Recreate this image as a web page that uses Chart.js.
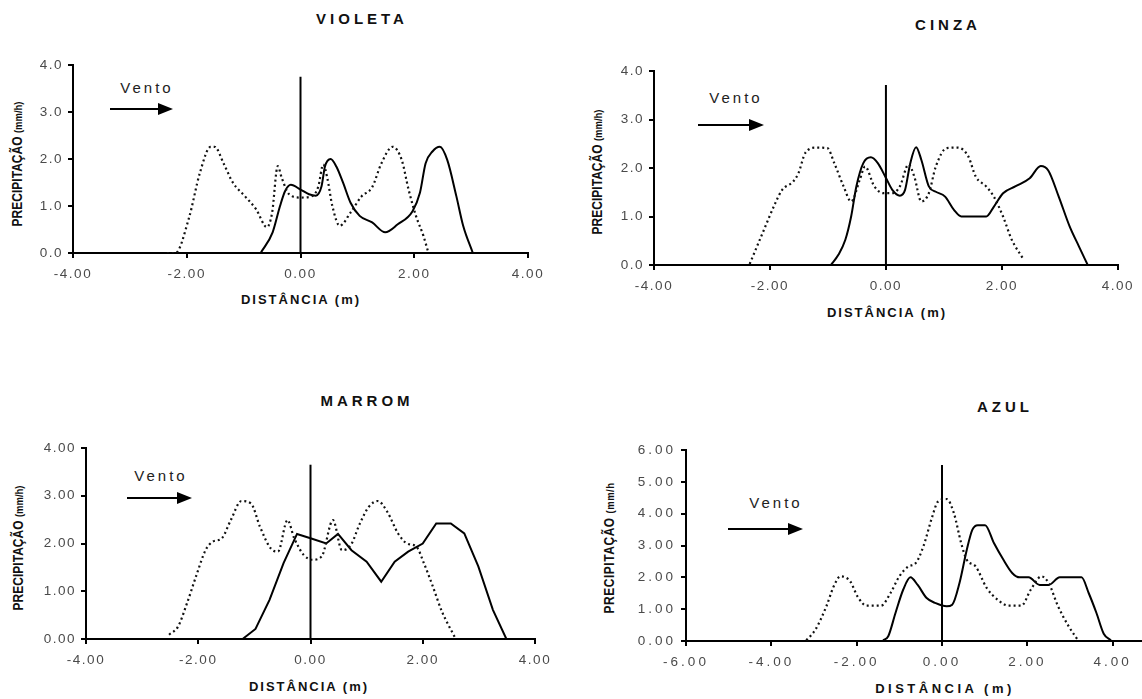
<!DOCTYPE html>
<html>
<head>
<meta charset="utf-8">
<script src="https://cdn.jsdelivr.net/npm/chart.js@4"></script>
<style>
  html, body { margin:0; padding:0; background:#fff; }
  body { width:1142px; height:699px; overflow:hidden; position:relative; font-family:'Liberation Sans', Arial, sans-serif; }
  canvas { position:absolute; }
  .txt { position:absolute; transform:translate(-50%,-50%); white-space:nowrap; color:#111; }
  .ttl { font-weight:bold; font-size:15px; letter-spacing:4px; }
  .xt  { font-weight:bold; font-size:13px; letter-spacing:2px; }
  .yt  { font-weight:bold; font-size:14px; transform:translate(-50%,-50%) rotate(-90deg) scaleX(0.86); }
  .yt small { font-size:11px; font-weight:bold; }
  .vento { font-size:15px; letter-spacing:3px; color:#222; }
</style>
</head>
<body>

<div class="txt ttl" style="left:362px;top:18px">VIOLETA</div>
<div class="txt ttl" style="left:948px;top:24px">CINZA</div>
<div class="txt ttl" style="left:367px;top:400px">MARROM</div>
<div class="txt ttl" style="left:1005px;top:406px">AZUL</div>

<div class="txt xt" style="left:301px;top:299px">DISTÂNCIA (m)</div>
<div class="txt xt" style="left:887px;top:312px">DISTÂNCIA (m)</div>
<div class="txt xt" style="left:309px;top:686px">DISTÂNCIA (m)</div>
<div class="txt xt" style="left:945px;top:688px;letter-spacing:3.5px">DISTÂNCIA (m)</div>

<div class="txt yt" style="left:17px;top:164px">PRECIPITAÇÃO <small>(mm/h)</small></div>
<div class="txt yt" style="left:597px;top:172px">PRECIPITAÇÃO <small>(mm/h)</small></div>
<div class="txt yt" style="left:18px;top:548px">PRECIPITAÇÃO <small>(mm/h)</small></div>
<div class="txt yt" style="left:609px;top:548px;letter-spacing:0.6px">PRECIPITAÇÃO <small>(mm/h</small></div>

<div class="txt vento" style="left:147px;top:87px">Vento</div>
<div class="txt vento" style="left:736px;top:97px">Vento</div>
<div class="txt vento" style="left:161px;top:475px">Vento</div>
<div class="txt vento" style="left:776px;top:502px">Vento</div>

<canvas id="c1"></canvas>
<canvas id="c2"></canvas>
<canvas id="c3"></canvas>
<canvas id="c4"></canvas>

<script>
// ── Dados ───────────────────────────────────────────────────
const xTicks4   = [-4, -2, 0, 2, 4];
const xTicks6   = [-6, -4, -2, 0, 2, 4, 6];
const yTicks4   = [0, 1, 2, 3, 4];
const yTicks6   = [0, 1, 2, 3, 4, 5, 6];

// VIOLETA
const violetaDotX = [-2.35,-2.2,-1.96,-1.77,-1.58,-1.51,-1.35,-1.19,-0.97,-0.78,-0.59,-0.5,-0.4,-0.33,-0.2,0,0.18,0.31,0.4,0.47,0.56,0.69,0.88,1.07,1.26,1.42,1.62,1.78,1.9,2.03,2.16,2.25];
const violetaDotY = [0,0,0.75,1.7,2.26,2.26,1.9,1.5,1.2,0.93,0.55,0.85,1.85,1.6,1.25,1.18,1.2,1.4,1.88,1.6,1.0,0.58,0.86,1.2,1.4,1.9,2.26,1.98,1.35,0.79,0.37,0];
const violetaSolX = [-0.7,-0.49,-0.36,-0.27,-0.17,0,0.15,0.27,0.37,0.43,0.53,0.63,0.75,0.88,1.04,1.26,1.49,1.71,1.97,2.1,2.2,2.32,2.45,2.58,2.74,2.86,3.03];
const violetaSolY = [0,0.44,1.0,1.32,1.45,1.35,1.25,1.22,1.42,1.84,2.0,1.84,1.49,1.07,0.79,0.65,0.44,0.61,0.89,1.28,1.91,2.16,2.26,1.98,1.21,0.58,0];

// CINZA
const cinzaDotX = [-2.35,-2.13,-1.91,-1.79,-1.6,-1.51,-1.39,-1.2,-1.01,-0.89,-0.73,-0.6,-0.45,-0.36,-0.2,-0.04,0.11,0.24,0.39,0.49,0.61,0.74,0.86,1.05,1.24,1.42,1.55,1.73,1.86,2.02,2.17,2.36];
const cinzaDotY = [0.02,0.65,1.27,1.55,1.72,1.89,2.31,2.42,2.41,2.1,1.62,1.31,1.76,2.03,1.62,1.48,1.48,1.62,2.07,1.82,1.31,1.48,2.03,2.41,2.42,2.24,1.82,1.62,1.41,1.0,0.52,0.14];
const cinzaSolX = [-0.95,-0.82,-0.7,-0.6,-0.51,-0.39,-0.26,-0.14,-0.01,0.11,0.24,0.33,0.42,0.52,0.61,0.74,0.86,1.02,1.17,1.3,1.49,1.73,1.86,2.02,2.23,2.48,2.67,2.8,2.98,3.17,3.33,3.48];
const cinzaSolY = [0,0.21,0.52,1.0,1.62,2.1,2.22,2.1,1.82,1.55,1.43,1.55,2.1,2.43,2.17,1.62,1.51,1.41,1.14,1.0,1.0,1.0,1.2,1.48,1.62,1.79,2.04,1.95,1.41,0.79,0.38,0];

// MARROM
const marromDotX = [-2.52,-2.36,-2.2,-2.04,-1.87,-1.74,-1.58,-1.42,-1.23,-1.06,-0.9,-0.71,-0.58,-0.41,-0.29,-0.12,0.04,0.2,0.4,0.56,0.72,0.88,1.04,1.2,1.37,1.56,1.72,1.89,2.02,2.18,2.34,2.57];
const marromDotY = [0.09,0.26,0.75,1.31,1.86,2.04,2.11,2.49,2.89,2.84,2.35,1.9,1.83,2.49,2.11,1.76,1.66,1.73,2.49,1.86,1.97,2.42,2.77,2.89,2.66,2.21,2.0,1.93,1.59,1.1,0.58,0.04];
const marromSolX = [-1.21,-0.98,-0.73,-0.48,-0.24,0,0.28,0.49,0.73,1.0,1.26,1.5,1.74,2.0,2.24,2.5,2.74,2.99,3.25,3.49];
const marromSolY = [0,0.21,0.82,1.59,2.2,2.11,2.0,2.2,1.86,1.62,1.2,1.62,1.83,2.0,2.42,2.42,2.21,1.52,0.61,0];

// AZUL
const azulDotX = [-3.18,-2.97,-2.71,-2.54,-2.38,-2.15,-1.98,-1.77,-1.43,-1.21,-1.0,-0.79,-0.62,-0.44,-0.23,-0.1,0.11,0.28,0.45,0.58,0.79,1.05,1.31,1.56,1.86,2.08,2.33,2.5,2.72,2.97,3.19];
const azulDotY = [0.02,0.35,1.09,1.71,2.03,1.87,1.4,1.11,1.11,1.5,2.03,2.34,2.44,2.96,3.9,4.37,4.46,4.01,3.07,2.55,2.34,1.66,1.29,1.11,1.11,1.61,2.03,1.82,1.09,0.46,0.02];
const azulSolX = [-1.38,-1.26,-1.09,-0.91,-0.74,-0.57,-0.36,-0.15,0.11,0.24,0.41,0.58,0.71,0.84,1.01,1.22,1.44,1.65,1.82,2.03,2.29,2.5,2.76,3.27,3.44,3.62,3.79,3.96];
const azulSolY = [0.02,0.15,0.88,1.61,2.0,1.76,1.35,1.19,1.09,1.14,1.82,2.86,3.49,3.64,3.64,3.07,2.55,2.13,2.0,2.0,1.76,1.76,2.0,2.0,1.5,0.88,0.23,0.02];

// topo da linha vertical em x = 0
const vLineTop = [3.75, 3.71, 3.65, 5.53];

// ── Helpers ─────────────────────────────────────────────────
const zip = (xs, ys) => xs.map((x, i) => ({ x, y: ys[i] }));
const FONT = "'Liberation Sans', Arial, sans-serif";

// seta "Vento" + espaçamento das letras dos ticks
const ventoPlugin = {
  id: 'vento',
  beforeUpdate(chart, args, o) { chart.ctx.letterSpacing = (o.spacing || 0) + 'px'; },
  beforeDraw(chart, args, o) { chart.ctx.letterSpacing = (o.spacing || 0) + 'px'; },
  afterDraw(chart, args, o) {
    const c = chart.ctx;
    c.save();
    c.strokeStyle = '#000'; c.fillStyle = '#000'; c.lineWidth = 2;
    c.beginPath(); c.moveTo(o.x1, o.y); c.lineTo(o.x2 - 12, o.y); c.stroke();
    c.beginPath(); c.moveTo(o.x2, o.y); c.lineTo(o.x2 - 15, o.y - 6); c.lineTo(o.x2 - 15, o.y + 6); c.closePath(); c.fill();
    c.restore();
  }
};

function panel(id, box, dot, sol, vTop, xt, yt, dec, smoothSolid, spacing, arrow) {
  const cv = document.getElementById(id);
  cv.width = box.w; cv.height = box.h;
  cv.style.left = box.left + 'px'; cv.style.top = box.top + 'px';
  cv.style.width = box.w + 'px'; cv.style.height = box.h + 'px';
  const yW = 50, xH = 30;
  const [aL, aR, aT, aB] = box.area;
  const axisCommon = {
    type: 'linear',
    border: { color: '#000', width: 2 },
    grid: { drawOnChartArea: false, drawTicks: true, tickLength: 5, color: '#000', lineWidth: 2 },
  };
  return new Chart(cv, {
    type: 'scatter',
    data: {
      datasets: [
        { data: zip(dot[0], dot[1]), showLine: true, borderColor: '#111', borderWidth: 2.2, borderDash: [2, 3],
          pointRadius: 0, cubicInterpolationMode: 'monotone' },
        { data: zip(sol[0], sol[1]), showLine: true, borderColor: '#000', borderWidth: 2,
          pointRadius: 0, cubicInterpolationMode: smoothSolid ? 'monotone' : 'default', tension: 0 },
        { data: [{ x: 0, y: 0 }, { x: 0, y: vTop }], showLine: true, borderColor: '#000', borderWidth: 2, pointRadius: 0 }
      ]
    },
    options: {
      responsive: false, animation: false, events: [],
      layout: { autoPadding: false, padding: { left: aL - yW, right: box.w - aR, top: aT, bottom: box.h - aB - xH } },
      plugins: { legend: { display: false }, tooltip: { enabled: false }, vento: { ...arrow, spacing } },
      scales: {
        x: { ...axisCommon, position: 'bottom', min: xt[0], max: xt[xt.length - 1],
             afterBuildTicks: s => { s.ticks = xt.map(v => ({ value: v })); },
             afterFit: s => { s.height = xH; },
             ticks: { callback: v => v.toFixed(2), color: '#4a4a4a', padding: 8, maxRotation: 0, autoSkip: false,
                      font: { family: FONT, size: 13.5 } } },
        y: { ...axisCommon, position: 'left', min: yt[0], max: yt[yt.length - 1],
             afterBuildTicks: s => { s.ticks = yt.map(v => ({ value: v })); },
             afterFit: s => { s.width = yW; },
             ticks: { callback: v => v.toFixed(dec), color: '#4a4a4a', padding: 5,
                      font: { family: FONT, size: 13.5 } } }
      }
    },
    plugins: [ventoPlugin]
  });
}

panel('c1', { left: 0, top: 0, w: 571, h: 330, area: [73, 528, 65, 253] },
  [violetaDotX, violetaDotY], [violetaSolX, violetaSolY], vLineTop[0], xTicks4, yTicks4, 1, true, 1.5,
  { x1: 110, x2: 173, y: 109 });

panel('c2', { left: 571, top: 0, w: 571, h: 330, area: [83, 548, 71, 265] },
  [cinzaDotX, cinzaDotY], [cinzaSolX, cinzaSolY], vLineTop[1], xTicks4, yTicks4, 1, true, 1.5,
  { x1: 127, x2: 193, y: 125 });

panel('c3', { left: 0, top: 330, w: 571, h: 369, area: [86, 535, 118, 309] },
  [marromDotX, marromDotY], [marromSolX, marromSolY], vLineTop[2], xTicks4, yTicks4, 2, false, 1.5,
  { x1: 127, x2: 192, y: 168 });

panel('c4', { left: 571, top: 330, w: 660, h: 369, area: [115, 627, 120, 311] },
  [azulDotX, azulDotY], [azulSolX, azulSolY], vLineTop[3], xTicks6, yTicks6, 2, true, 3,
  { x1: 157, x2: 232, y: 199 });
</script>
</body>
</html>
